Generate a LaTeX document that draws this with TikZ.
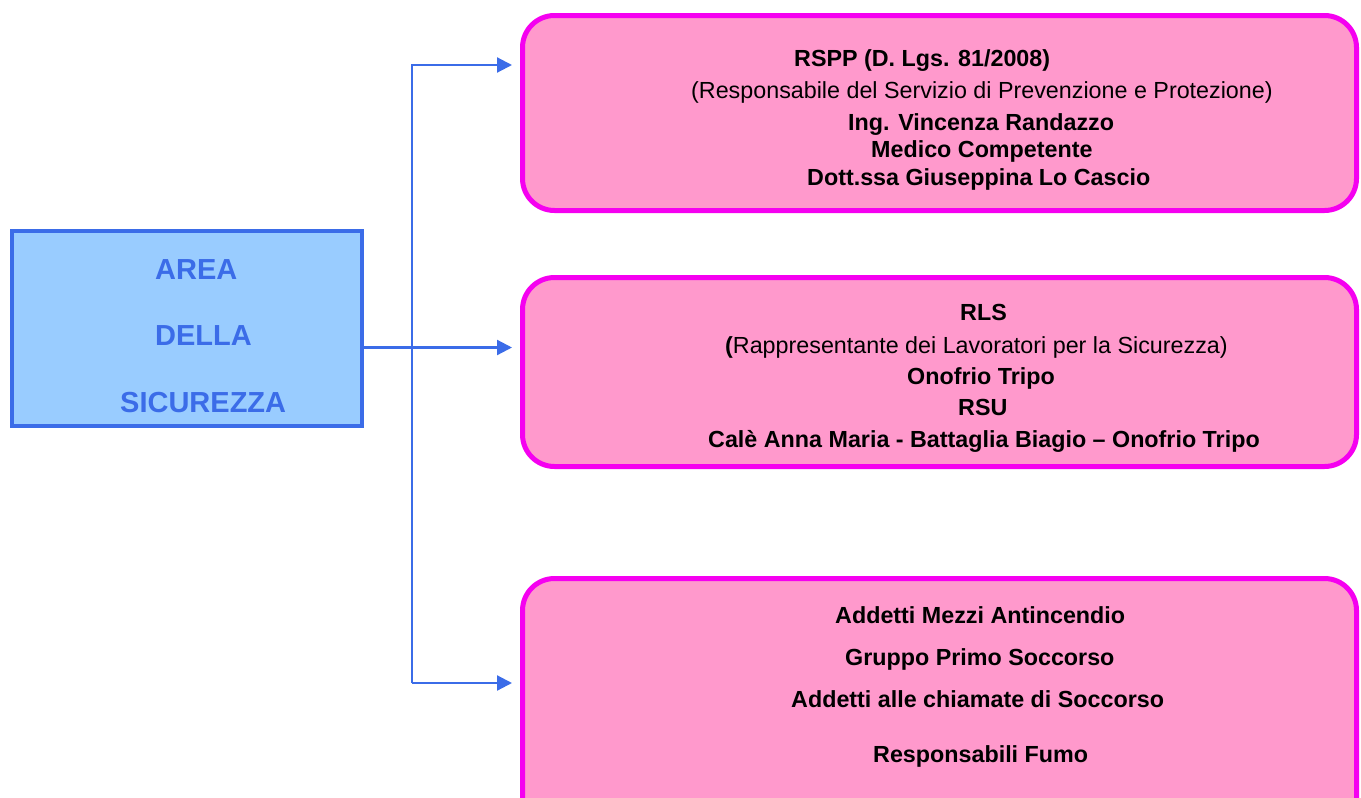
\documentclass[tikz,border=0pt]{standalone}
\usepackage{fontspec}
\setmainfont{Liberation Sans}
\usetikzlibrary{arrows.meta}
\definecolor{boxblue}{RGB}{153,204,255}
\definecolor{lineblue}{RGB}{59,108,232}
\definecolor{pinkfill}{RGB}{255,153,204}
\definecolor{pinkline}{RGB}{245,0,240}
\begin{document}
\begin{tikzpicture}[x=1pt,y=-1pt,
  areabox/.style={draw=lineblue, line width=4pt, fill=boxblue, minimum width=350pt, minimum height=195pt, inner sep=0pt},
  pinkbox/.style={draw=pinkline, line width=5pt, fill=pinkfill, rounded corners=32pt, minimum width=834pt, inner sep=0pt},
  areatext/.style={anchor=base west, text=lineblue, font=\fontsize{29}{34}\selectfont\bfseries, inner sep=0pt},
  bt/.style={anchor=base west, font=\fontsize{23.3}{27}\selectfont\bfseries, inner sep=0pt},
  rt/.style={anchor=base west, font=\fontsize{23.3}{27}\selectfont, inner sep=0pt},
  conn/.style={draw=lineblue, line width=2.2pt},
  arr/.style={conn, -{Triangle[length=15pt,width=15pt]}, shorten >=8pt}
]
\useasboundingbox (0,0) rectangle (1361,798);
\fill[white] (0,0) rectangle (1361,798);

% boxes
\node[areabox] (area) at (187,328.5) {};
\node[pinkbox, minimum height=195pt] (b1) at (939.5,113) {};
\node[pinkbox, minimum height=189pt] (b2) at (939.5,372) {};
\node[pinkbox, minimum height=262pt] (b3) at (939.5,709.5) {};

% connectors
\coordinate (jt) at (412,65);
\coordinate (jb) at (412,683);
\draw[arr] (jb) -- (jt) -- (jt -| b1.west);
\draw[arr] (jb) -- (jb -| b3.west);
\draw[arr] ([yshift=-19pt]area.east) -- ([yshift=-19pt]area.east -| b2.west);

% left box text
\node[areatext] (t1) at (155,279) {AREA};
\node[areatext] (t2) at (155,345) {DELLA};
\node[areatext] (t3) at (120,412) {SICUREZZA};

% top box text
\node[bt] (a1) at (794,66) {RSPP (D. Lgs. 81/2008)};
\node[rt] (a2) at (691,98) {(Responsabile del Servizio di Prevenzione e Protezione)};
\node[bt] (a3) at (848,130) {Ing. Vincenza Randazzo};
\node[bt] (a4) at (871,157) {Medico Competente};
\node[bt] (a5) at (807,185) {Dott.ssa Giuseppina Lo Cascio};

% middle box text
\node[bt] (m1) at (960,320) {RLS};
\node[rt] (m2) at (725,353) {{\bfseries(}Rappresentante dei Lavoratori per la Sicurezza)};
\node[bt] (m3) at (907,384) {Onofrio Tripo};
\node[bt] (m4) at (958,415) {RSU};
\node[bt] (m5) at (708,447) {Calè Anna Maria - Battaglia Biagio – Onofrio Tripo};

% bottom box text
\node[bt] (c1) at (835,623) {Addetti Mezzi Antincendio};
\node[bt] (c2) at (845,665) {Gruppo Primo Soccorso};
\node[bt] (c3) at (791,707) {Addetti alle chiamate di Soccorso};
\node[bt] (c4) at (873,762) {Responsabili Fumo};
\end{tikzpicture}
\end{document}
